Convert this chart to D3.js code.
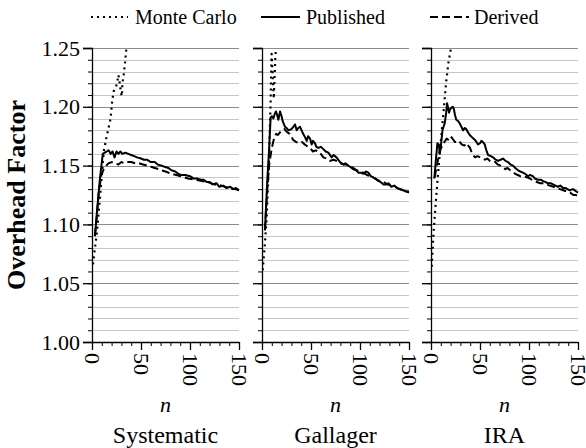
<!DOCTYPE html>
<html>
<head>
<meta charset="utf-8">
<script src="https://cdn.jsdelivr.net/npm/d3@7"></script>
<style>
  html, body { margin: 0; padding: 0; background: #fff; }
  svg { display: block; }
  text { font-family: "Liberation Serif", "Times New Roman", Tinos, "DejaVu Serif", serif; fill: #000; }
</style>
</head>
<body>
<svg id="chart" width="586" height="448"></svg>
<script>
// ---------------- DATA ----------------
const panelNames = ["Systematic", "Gallager", "IRA"];
const seriesNames = ["Monte Carlo", "Published", "Derived"];
const yTicks = [1.00, 1.05, 1.10, 1.15, 1.20, 1.25];
const yTickLabels = ["1.00", "1.05", "1.10", "1.15", "1.20", "1.25"];
const xTicks = [0, 50, 100, 150];
const xTickLabels = ["0", "50", "100", "150"];

// [n, overhead factor]
const sysMonteCarlo = [[1,1.066],[3,1.080],[5,1.093],[8,1.121],[12,1.162],[15,1.175],[19,1.190],[20.5,1.204],[22,1.213],[24,1.216],[25.5,1.220],[27,1.227],[28.5,1.219],[29.5,1.212],[30.5,1.209],[31,1.220],[32.5,1.228],[33.5,1.236],[35,1.249],[36,1.262]];
const sysPublished = [[3,1.090],[5,1.110],[8,1.138],[11,1.160],[13,1.161],[15,1.162],[17,1.163],[19,1.160],[21,1.162],[23,1.157],[25,1.162],[27,1.160],[29,1.162],[31,1.160],[34,1.161],[37,1.160],[40,1.159],[43,1.158],[46,1.157],[50,1.156],[53,1.155],[56,1.155],[60,1.153],[64,1.153],[67,1.151],[71,1.150],[74,1.149],[78,1.148],[81,1.146],[85,1.145],[88,1.143],[91,1.142],[95,1.142],[100,1.141],[104,1.139],[107,1.139],[111,1.138],[114,1.138],[117,1.136],[120,1.136],[123,1.134],[127,1.135],[130,1.132],[134,1.133],[137,1.131],[141,1.132],[144,1.130],[147,1.131],[150,1.129]];
const sysDerived = [[3,1.090],[5,1.108],[7,1.128],[9.5,1.142],[12,1.147],[14.5,1.150],[17,1.152],[20,1.153],[23,1.152],[27,1.151],[30,1.153],[33,1.152],[37,1.153],[40,1.153],[44,1.152],[48,1.152],[52,1.151],[56,1.150],[60,1.149],[64,1.148],[68,1.147],[71,1.146],[75,1.145],[81,1.143],[86,1.142],[91,1.141],[98,1.139],[105,1.138],[111,1.137],[118,1.136],[125,1.134],[132,1.133],[139,1.131],[146,1.130],[150,1.129]];

const galMonteCarlo = [[0.7,1.061],[3,1.084],[4.8,1.107],[6.5,1.141],[8,1.180],[8.8,1.205],[9.3,1.225],[9.8,1.245],[11,1.225],[12,1.207],[12.8,1.225],[13.5,1.240],[14.3,1.252],[15,1.262]];
const galPublished = [[3,1.095],[5.4,1.138],[7,1.160],[8.8,1.191],[10,1.192],[11.6,1.190],[13,1.194],[14.3,1.196],[15.5,1.193],[16.7,1.189],[18.4,1.196],[20,1.192],[21,1.188],[23.5,1.183],[25,1.182],[27,1.180],[30,1.181],[32,1.183],[33.7,1.185],[35.4,1.180],[37,1.182],[38.8,1.183],[42,1.177],[44,1.174],[45.6,1.171],[47,1.175],[49,1.173],[50.7,1.168],[52,1.171],[54,1.169],[55.5,1.166],[57.5,1.165],[60,1.166],[62.6,1.164],[65,1.162],[67.7,1.161],[71,1.157],[73,1.159],[76,1.157],[79.6,1.153],[83,1.151],[85,1.152],[88,1.150],[90,1.149],[93,1.147],[96,1.146],[98.3,1.144],[101,1.144],[103.4,1.143],[106,1.145],[108.5,1.144],[111,1.141],[113.6,1.140],[116,1.139],[118.7,1.137],[121,1.136],[124,1.134],[127,1.134],[129,1.135],[132,1.132],[135,1.133],[138,1.131],[141,1.130],[144,1.129],[147,1.128],[150,1.128]];
const galDerived = [[3,1.095],[5.4,1.130],[7.5,1.152],[10,1.165],[12.8,1.175],[14.5,1.177],[16.3,1.176],[19,1.179],[21.4,1.180],[23,1.181],[24.8,1.179],[28.2,1.177],[30,1.175],[31.6,1.172],[35,1.170],[38.4,1.169],[41,1.170],[43.5,1.168],[46.9,1.166],[49,1.165],[52,1.162],[55,1.163],[57,1.162],[60,1.160],[62.6,1.157],[66,1.156],[69.4,1.154],[73,1.155],[76,1.154],[80,1.152],[83,1.151],[86,1.151],[89.8,1.150],[93,1.148],[96.6,1.146],[100,1.145],[103.4,1.144],[107,1.142],[110,1.141],[113,1.140],[117,1.138],[120,1.137],[124,1.136],[128,1.134],[132,1.133],[136,1.132],[140,1.130],[145,1.129],[150,1.127]];

const iraMonteCarlo = [[0.7,1.064],[2.4,1.090],[4.8,1.118],[7.5,1.146],[10.2,1.172],[12.6,1.194],[15.3,1.220],[17.7,1.237],[20.4,1.250],[22,1.262]];
const iraPublished = [[3.4,1.139],[5,1.155],[6.5,1.169],[8,1.168],[9,1.160],[10.5,1.170],[11.7,1.180],[14,1.186],[15.5,1.195],[16.4,1.203],[17.5,1.199],[18.4,1.195],[19.5,1.198],[20.7,1.199],[22,1.200],[23.1,1.199],[24.5,1.193],[25.8,1.189],[27.5,1.188],[29.2,1.186],[31,1.183],[32.7,1.180],[34.5,1.182],[36,1.181],[38,1.178],[39.5,1.176],[42,1.174],[44.6,1.172],[46.5,1.170],[48,1.168],[50,1.169],[51.4,1.171],[53,1.170],[54.8,1.168],[56.5,1.163],[58.2,1.159],[61,1.158],[63.3,1.157],[66,1.155],[68.4,1.154],[71,1.155],[73.5,1.156],[76,1.154],[78.6,1.153],[81,1.151],[83.7,1.150],[86,1.148],[88.8,1.146],[91,1.145],[93.9,1.144],[96,1.143],[99,1.141],[101,1.142],[104,1.141],[106,1.139],[109,1.138],[112,1.138],[114,1.137],[117,1.136],[119.4,1.135],[122,1.135],[124.5,1.134],[127,1.133],[129.6,1.132],[132,1.133],[134.7,1.131],[137,1.131],[141.5,1.129],[145,1.130],[148.3,1.128],[150,1.127]];
const iraDerived = [[3.7,1.140],[6,1.150],[9,1.163],[11,1.166],[12.6,1.169],[14.5,1.171],[16,1.173],[17.5,1.172],[19.4,1.175],[21,1.174],[22.8,1.172],[24.5,1.170],[26.2,1.170],[28.5,1.171],[31.3,1.168],[34,1.167],[36.4,1.169],[38,1.167],[39.8,1.165],[42,1.160],[45,1.157],[47.5,1.158],[50,1.157],[52.5,1.156],[55,1.155],[57.5,1.156],[60,1.154],[62.5,1.153],[65.6,1.153],[68,1.151],[70.7,1.150],[73,1.149],[75.8,1.147],[78,1.148],[80.9,1.146],[83,1.145],[86,1.143],[88.5,1.142],[91,1.141],[94,1.141],[97.9,1.140],[101,1.139],[104.6,1.137],[108,1.136],[111.4,1.135],[114,1.135],[118,1.134],[121,1.133],[125,1.132],[128,1.131],[131.7,1.130],[135,1.129],[138.5,1.128],[142,1.127],[145.3,1.125],[148,1.125],[150,1.124]];

const panelData = [
  [sysMonteCarlo, sysPublished, sysDerived],
  [galMonteCarlo, galPublished, galDerived],
  [iraMonteCarlo, iraPublished, iraDerived]
];

// ---------------- LAYOUT ----------------
const svg = d3.select("#chart");
const panelLeft = [92, 262, 431];
const panelWidth = 147;
const plotTop = 48, plotBottom = 342;
const FONT = '"Liberation Serif", "Times New Roman", Tinos, "DejaVu Serif", serif';
const styles = [
  { dash: "2,4", width: 2.2, cap: "butt" },
  { dash: null, width: 2, cap: "butt" },
  { dash: "8,4", width: 2, cap: "butt" }
];

const y = d3.scaleLinear().domain([1.00, 1.25]).range([plotBottom, plotTop]);
const minorY = d3.range(0, 26).map(i => +(1 + i * 0.01).toFixed(2));
const minorX = d3.range(0, 16).map(i => i * 10);

panelNames.forEach((name, pi) => {
  const x = d3.scaleLinear().domain([0, 150]).range([panelLeft[pi], panelLeft[pi] + panelWidth]);
  const g = svg.append("g");

  // grid lines
  g.append("g").selectAll("line")
    .data(minorY.filter(v => v > 1.001))
    .join("line")
    .attr("x1", x(0)).attr("x2", x(150))
    .attr("y1", d => Math.round(y(d)) + 0.5).attr("y2", d => Math.round(y(d)) + 0.5)
    .attr("stroke", d => (Math.round(d * 100) % 5 === 0) ? "#8c8c8c" : "#c6c6c6")
    .attr("stroke-width", 1);

  // clip
  const clipId = "clip" + pi;
  svg.append("clipPath").attr("id", clipId).append("rect")
    .attr("x", x(0)).attr("y", plotTop).attr("width", panelWidth + 2).attr("height", plotBottom - plotTop);

  const line = d3.line().x(d => x(d[0])).y(d => y(d[1]));
  const lg = g.append("g").attr("clip-path", `url(#${clipId})`);
  panelData[pi].forEach((series, si) => {
    lg.append("path")
      .datum(series)
      .attr("d", line)
      .attr("fill", "none")
      .attr("stroke", "#000")
      .attr("stroke-width", styles[si].width)
      .attr("stroke-linejoin", "round")
      .attr("stroke-linecap", styles[si].cap)
      .attr("stroke-dasharray", styles[si].dash);
  });

  // Y axis minor
  g.append("g").attr("transform", `translate(${x(0)},0)`)
    .call(d3.axisLeft(y).tickValues(minorY).tickSize(4).tickFormat(""))
    .call(a => a.select(".domain").remove())
    .call(a => a.selectAll("line").attr("stroke", "#000").attr("stroke-width", 1));
  // Y axis major
  g.append("g").attr("transform", `translate(${x(0)},0)`)
    .attr("font-family", FONT)
    .call(d3.axisLeft(y).tickValues(yTicks).tickSize(9).tickPadding(3)
      .tickFormat((d, i) => pi === 0 ? yTickLabels[i] : ""))
    .attr("font-family", FONT)
    .call(a => a.select(".domain").attr("stroke", "#000").attr("stroke-width", 1.3))
    .call(a => a.selectAll("line").attr("stroke", "#000").attr("stroke-width", 1.3))
    .call(a => a.selectAll("text").attr("font-family", FONT).style("font-family", FONT).style("font-size", "22px").attr("fill", "#000"));

  // X axis minor
  g.append("g").attr("transform", `translate(0,${plotBottom})`)
    .call(d3.axisBottom(x).tickValues(minorX).tickSize(4).tickFormat(""))
    .call(a => a.select(".domain").remove())
    .call(a => a.selectAll("line").attr("stroke", "#000").attr("stroke-width", 1));
  // X axis major
  g.append("g").attr("transform", `translate(0,${plotBottom})`)
    .call(d3.axisBottom(x).tickValues(xTicks).tickSize(8).tickSizeOuter(0)
      .tickFormat((d, i) => xTickLabels[i]))
    .attr("font-family", FONT)
    .call(a => a.select(".domain").attr("stroke", "#000").attr("stroke-width", 1.3))
    .call(a => a.selectAll("line").attr("stroke", "#000").attr("stroke-width", 1.3))
    .call(a => a.selectAll("text")
      .attr("font-family", FONT).style("font-family", FONT)
      .style("font-size", "22px").attr("fill", "#000")
      .attr("transform", "rotate(90)")
      .attr("x", 11).attr("y", 0).attr("dy", "0.35em")
      .style("text-anchor", "start"));

  // n label
  svg.append("text")
    .attr("x", x(75)).attr("y", 412)
    .attr("text-anchor", "middle")
    .attr("font-family", FONT)
    .style("font-size", "22px").style("font-style", "italic")
    .text("n");
  // panel name
  svg.append("text")
    .attr("x", x(75)).attr("y", 443)
    .attr("text-anchor", "middle")
    .attr("font-family", FONT)
    .style("font-size", "24px")
    .text(name);
});

// Y axis title
svg.append("text")
  .attr("transform", `translate(25,${(plotTop + plotBottom) / 2}) rotate(-90)`)
  .attr("text-anchor", "middle")
  .attr("font-family", FONT)
  .style("font-size", "26px").style("font-weight", "bold")
  .text("Overhead Factor");

// Legend
const legendItems = [
  { x1: 91, x2: 128, tx: 135 },
  { x1: 261, x2: 300, tx: 306 },
  { x1: 430, x2: 469, tx: 474 }
];
const legendY = 17;
legendItems.forEach((it, i) => {
  svg.append("line")
    .attr("x1", it.x1).attr("x2", it.x2).attr("y1", legendY).attr("y2", legendY)
    .attr("stroke", "#000").attr("stroke-width", styles[i].width)
    .attr("stroke-dasharray", styles[i].dash);
  svg.append("text")
    .attr("x", it.tx).attr("y", legendY + 7)
    .attr("font-family", FONT)
    .style("font-size", "20px")
    .text(seriesNames[i]);
});
</script>
</body>
</html>
